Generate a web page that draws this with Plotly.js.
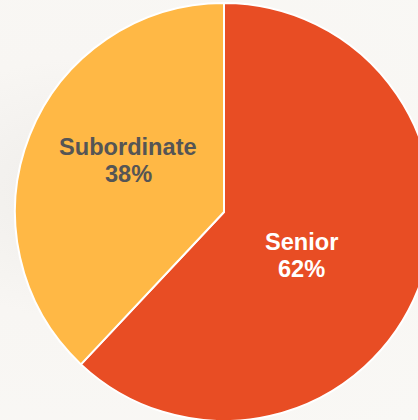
<!DOCTYPE html>
<html>
<head>
<meta charset="utf-8">
<script src="https://cdn.plot.ly/plotly-3.0.1.min.js"></script>
<style>
  html, body { margin: 0; padding: 0; width: 418px; height: 420px; overflow: hidden;
    background: radial-gradient(ellipse at 20% 45%, #efedea 0%, #f8f6f3 40%, #f9f8f5 100%); }
  #chart { width: 448px; height: 424px; }
</style>
</head>
<body>
<div id="chart"></div>
<script>
// Share of staff by seniority
const categories = ['Senior', 'Subordinate'];
const shares = [62, 38];
const sliceColors = ['#e84d24', '#ffb845'];
const labelColors = ['#ffffff', '#555555'];

// Figure size and margins (pixels)
const W = 448, H = 424, M = { l: 0, r: 0, t: 3, b: 3 };
// Label anchor points in pixels: [x centre, y of the name line, y of the percent line]
const labelSpots = [[301, 242, 269], [128, 147, 174]];

const px2paper = (x, y) => ({
  x: (x - M.l) / (W - M.l - M.r),
  y: (H - M.b - y) / (H - M.t - M.b)
});

const trace = {
  type: 'pie',
  labels: categories,
  values: shares,
  sort: false,
  direction: 'clockwise',
  rotation: 0,
  marker: { colors: sliceColors, line: { color: '#ffffff', width: 2 } },
  textinfo: 'none',
  hoverinfo: 'none',
  showlegend: false
};

const labelFont = (c) => ({ family: 'Liberation Sans, Arial, sans-serif', size: 23.6, color: c });
const annotations = [];
categories.forEach((name, i) => {
  const [cx, y1, y2] = labelSpots[i];
  const a = px2paper(cx, y1), b = px2paper(cx, y2);
  annotations.push({ xref: 'paper', yref: 'paper', x: a.x, y: a.y, xanchor: 'center', yanchor: 'middle',
    text: '<b>' + name + '</b>', showarrow: false, font: labelFont(labelColors[i]) });
  annotations.push({ xref: 'paper', yref: 'paper', x: b.x, y: b.y, xanchor: 'center', yanchor: 'middle',
    text: '<b>' + shares[i] + '%</b>', showarrow: false, font: labelFont(labelColors[i]) });
});

const layout = {
  width: W,
  height: H,
  margin: M,
  paper_bgcolor: 'rgba(0,0,0,0)',
  plot_bgcolor: 'rgba(0,0,0,0)',
  showlegend: false,
  annotations: annotations
};

Plotly.newPlot('chart', [trace], layout, { displayModeBar: false, staticPlot: true });
</script>
</body>
</html>
